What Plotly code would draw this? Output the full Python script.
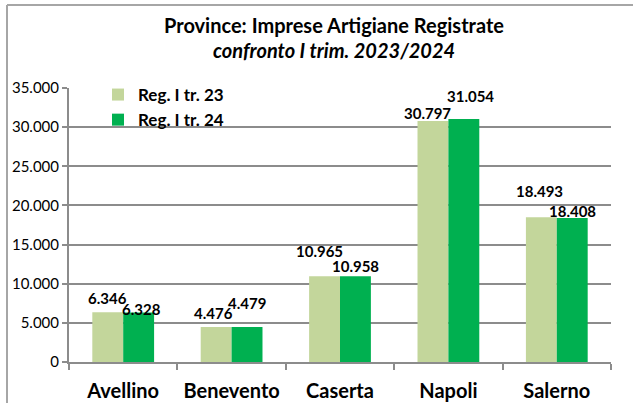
import plotly.graph_objects as go

categories = ["Avellino", "Benevento", "Caserta", "Napoli", "Salerno"]
reg_23 = [6346, 4476, 10965, 30797, 18493]
reg_24 = [6328, 4479, 10958, 31054, 18408]
series_names = ["Reg. I tr. 23", "Reg. I tr. 24"]
y_ticks = [0, 5000, 10000, 15000, 20000, 25000, 30000, 35000]
title_1 = "Province: Imprese Artigiane Registrate"
title_2 = "confronto I trim. 2023/2024"

# label nudges (dx, dy) in px, relative to bar centre / top
nudge_23 = [(0, 14), (-3, 14), (-5, 25), (-5, 8), (-2, 26)]
nudge_24 = [(3, 3), (0, 24), (0, 10), (7, 23), (0, 7)]

FONT = "Lato, Carlito, Calibri, sans-serif"
C23 = "#C3D69B"
C24 = "#00B050"
GRID = "#8C8C8C"

W, H = 633, 403
L, R, T, B = 69, 22, 88, 41
pw = W - L - R
ph = H - T - B
cat_w = pw / len(categories)
bargap = 0.43
half = cat_w * (1 - bargap) / 4


def px_x(x):
    return (x - L) / pw


def px_y(y):
    return ((H - B) - y) / ph


def fmt(v):
    return f"{v:,}".replace(",", ".")


fig = go.Figure()
for name, vals, col in [(series_names[0], reg_23, C23), (series_names[1], reg_24, C24)]:
    fig.add_trace(go.Bar(x=categories, y=vals, name="<b>" + name + "</b>",
                         marker_color=col, marker_line_width=0))

ann = []
for vals, nudges, sign in [(reg_23, nudge_23, -1), (reg_24, nudge_24, 1)]:
    for c, v, (dx, dy) in zip(categories, vals, nudges):
        ann.append(dict(x=c, y=v, xref="x", yref="y", text=f"<b>{fmt(v)}</b>",
                        showarrow=False, xshift=sign * half + dx, yshift=dy,
                        yanchor="middle", xanchor="center",
                        font=dict(family=FONT, size=15, color="black")))

ann.append(dict(x=px_x(334), y=px_y(25), xref="paper", yref="paper", showarrow=False,
                text="<b>" + title_1 + "</b>", xanchor="center", yanchor="middle",
                font=dict(family=FONT, size=20, color="black")))
ann.append(dict(x=px_x(334), y=px_y(50), xref="paper", yref="paper", showarrow=False,
                text="<b><i>" + title_2 + "</i></b>", xanchor="center", yanchor="middle",
                font=dict(family=FONT, size=20, color="black")))

shapes = [
    dict(type="line", xref="paper", yref="paper", x0=px_x(7), x1=px_x(7),
         y0=px_y(410), y1=px_y(5), line=dict(color="#A6A6A6", width=2)),
    dict(type="line", xref="paper", yref="paper", x0=px_x(7), x1=px_x(640),
         y0=px_y(5), y1=px_y(5), line=dict(color="#A6A6A6", width=2)),
]

fig.update_layout(
    width=W, height=H,
    margin=dict(l=L, r=R, t=T, b=B, autoexpand=False),
    paper_bgcolor="white", plot_bgcolor="white",
    barmode="group", bargap=bargap, bargroupgap=0,
    separators=",.",
    font=dict(family=FONT, color="black"),
    annotations=ann, shapes=shapes,
    showlegend=True,
    legend=dict(x=px_x(98), y=px_y(77), xanchor="left", yanchor="top",
                bgcolor="rgba(0,0,0,0)", font=dict(family=FONT, size=17, color="black"),
                itemwidth=30, tracegroupgap=0, traceorder="normal"),
)

fig.update_yaxes(range=[0, 35000], tickvals=y_ticks, tickformat=",d",
                 showgrid=True, gridcolor=GRID, gridwidth=2,
                 showline=True, linecolor=GRID, linewidth=2,
                 ticks="outside", ticklen=5, tickcolor=GRID, tickwidth=2,
                 tickfont=dict(family=FONT, size=15, color="black"),
                 zeroline=False, fixedrange=True)
fig.update_xaxes(showline=True, linecolor=GRID, linewidth=2, showgrid=False,
                 ticks="outside", tickson="boundaries", ticklen=6, tickcolor=GRID, tickwidth=2,
                 ticklabelstandoff=10,
                 tickfont=dict(family=FONT, size=20, color="black"),
                 tickprefix="<b>", ticksuffix="</b>", fixedrange=True)

fig.write_html("out.html", config={"displayModeBar": False},
               post_script="document.body.style.margin='0';")
